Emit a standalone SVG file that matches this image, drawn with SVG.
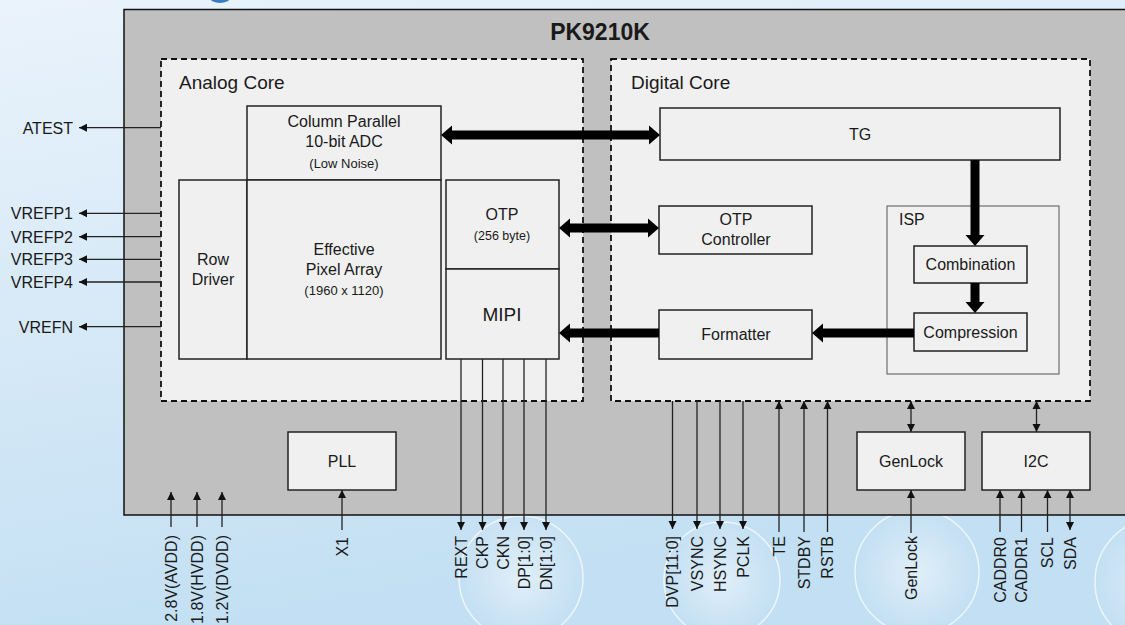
<svg xmlns="http://www.w3.org/2000/svg" width="1125" height="625" viewBox="0 0 1125 625">
<defs>
<linearGradient id="bg" x1="0" y1="0" x2="0.3" y2="1">
<stop offset="0" stop-color="#eaf3fb"/>
<stop offset="0.5" stop-color="#d6e9f7"/>
<stop offset="1" stop-color="#c2dff3"/>
</linearGradient>
<radialGradient id="glow" cx="0.5" cy="0.5" r="0.5">
<stop offset="0" stop-color="#ffffff" stop-opacity="0.5"/>
<stop offset="0.7" stop-color="#ffffff" stop-opacity="0.15"/>
<stop offset="1" stop-color="#ffffff" stop-opacity="0.02"/>
</radialGradient>
<marker id="ah" viewBox="0 0 10 10" refX="10" refY="5" markerWidth="8" markerHeight="9" markerUnits="userSpaceOnUse" orient="auto-start-reverse">
<path d="M0,0 L10,5 L0,10 Z" fill="#111"/>
</marker>
<style>
text{font-family:"Liberation Sans",Arial,sans-serif;fill:#1a1a1a}
.box{fill:#f0f0f0;stroke:#222;stroke-width:1.5}
.isp{fill:#f0f0f0;stroke:#555;stroke-width:1}
.core{fill:#f0f0f0;stroke:#111;stroke-width:1.8;stroke-dasharray:6,4}
.t16{font-size:16px;text-anchor:middle}
.t13{font-size:13px;text-anchor:middle}
.lab{font-size:16px}
.corelab{font-size:19px}
.rot{font-size:16px;text-anchor:end}
.w{stroke:#222;stroke-width:1.3;fill:none}
.a{marker-end:url(#ah)}
.b{marker-start:url(#ah);marker-end:url(#ah)}
.thick{fill:#000}
.deco{fill:url(#glow);stroke:#ffffff;stroke-opacity:0.7;stroke-width:1.5}
</style>
</defs>

<rect width="1125" height="625" fill="url(#bg)"/>
<ellipse cx="220" cy="-2" rx="10" ry="5" fill="#3a7cc0"/>
<g id="decor">
<circle class="deco" cx="521" cy="578" r="62"/>
<circle class="deco" cx="722" cy="580" r="58"/>
<circle class="deco" cx="917" cy="572" r="62"/>
<circle class="deco" cx="1160" cy="582" r="65"/>
</g>

<g id="chip">
<rect x="124" y="9.5" width="1010" height="505.5" fill="#c0c0c0" stroke="#111" stroke-width="1.5"/>
<text x="600" y="40" font-size="23" font-weight="bold" text-anchor="middle">PK9210K</text>
</g>

<g id="analog-core">
<rect class="core" x="161" y="59" width="422" height="342"/>
<text class="corelab" x="179" y="89">Analog Core</text>
</g>
<g id="digital-core">
<rect class="core" x="611" y="59" width="479" height="342"/>
<text class="corelab" x="631" y="89">Digital Core</text>
</g>

<g id="adc">
<rect class="box" x="247" y="106" width="194" height="74"/>
<text class="t16" x="344" y="127">Column Parallel</text>
<text class="t16" x="344" y="147">10-bit ADC</text>
<text class="t13" x="344" y="168">(Low Noise)</text>
</g>
<g id="row-driver">
<rect class="box" x="179" y="180" width="68" height="179"/>
<text class="t16" x="213" y="265">Row</text>
<text class="t16" x="213" y="285">Driver</text>
</g>
<g id="pixel-array">
<rect class="box" x="247" y="180" width="194" height="179"/>
<text class="t16" x="344" y="255">Effective</text>
<text class="t16" x="344" y="275">Pixel Array</text>
<text class="t13" x="344" y="295">(1960 x 1120)</text>
</g>
<g id="otp">
<rect class="box" x="446" y="180" width="113" height="89"/>
<text class="t16" x="502" y="220">OTP</text>
<text class="t13" x="502" y="240" style="font-size:12.5px">(256 byte)</text>
</g>
<g id="mipi">
<rect class="box" x="446" y="269" width="113" height="90"/>
<text class="t16" x="502" y="321" style="font-size:19px">MIPI</text>
</g>

<g id="tg">
<rect class="box" x="660" y="108" width="400" height="52"/>
<text class="t16" x="860" y="140">TG</text>
</g>
<g id="otp-controller">
<rect class="box" x="659" y="206" width="153" height="48"/>
<text class="t16" x="736" y="225">OTP</text>
<text class="t16" x="736" y="245">Controller</text>
</g>
<g id="formatter">
<rect class="box" x="659" y="310" width="153" height="49"/>
<text class="t16" x="736" y="340">Formatter</text>
</g>
<g id="isp">
<rect class="isp" x="887" y="206" width="172" height="168"/>
<text class="lab" x="899" y="225">ISP</text>
</g>
<g id="combination">
<rect class="box" x="914" y="246" width="113" height="37"/>
<text class="t16" x="970.5" y="270">Combination</text>
</g>
<g id="compression">
<rect class="box" x="914" y="313" width="113" height="38"/>
<text class="t16" x="970.5" y="338">Compression</text>
</g>

<g id="pll">
<rect class="box" x="288" y="432" width="108" height="58"/>
<text class="t16" x="342" y="467">PLL</text>
</g>
<g id="genlock">
<rect class="box" x="857" y="432" width="108" height="58"/>
<text class="t16" x="911" y="467">GenLock</text>
</g>
<g id="i2c">
<rect class="box" x="982" y="432" width="108" height="58"/>
<text class="t16" x="1036" y="467">I2C</text>
</g>

<g id="connectors">
<polygon class="thick" points="441,135 452,125.5 452,130.5 649,130.5 649,125.5 660,135 649,144.5 649,139.5 452,139.5 452,144.5"/>
<polygon class="thick" points="559,228 570,218.5 570,223.5 648,223.5 648,218.5 659,228 648,237.5 648,232.5 570,232.5 570,237.5"/>
<polygon class="thick" points="559,333 570,323.5 570,328.5 659,328.5 659,337.5 570,337.5 570,342.5"/>
<polygon class="thick" points="812,333 823,323.5 823,328.5 914,328.5 914,337.5 823,337.5 823,342.5"/>
<polygon class="thick" points="975,246 965.5,235 970.5,235 970.5,160 979.5,160 979.5,235 984.5,235"/>
<polygon class="thick" points="975,313 965.5,302 970.5,302 970.5,283 979.5,283 979.5,302 984.5,302"/>

<line class="w a" x1="161" y1="127.7" x2="79" y2="127.7"/>
<line class="w a" x1="161" y1="213.3" x2="79" y2="213.3"/>
<line class="w a" x1="161" y1="236.7" x2="79" y2="236.7"/>
<line class="w a" x1="161" y1="259.3" x2="79" y2="259.3"/>
<line class="w a" x1="161" y1="282" x2="79" y2="282"/>
<line class="w a" x1="161" y1="326.7" x2="79" y2="326.7"/>

<line class="w a" x1="171" y1="527" x2="171" y2="492"/>
<line class="w a" x1="197" y1="527" x2="197" y2="492"/>
<line class="w a" x1="222" y1="527" x2="222" y2="492"/>
<line class="w a" x1="342" y1="530" x2="342" y2="490"/>

<line class="w a" x1="461" y1="359" x2="461" y2="530"/>
<line class="w a" x1="482.5" y1="359" x2="482.5" y2="530"/>
<line class="w a" x1="503" y1="359" x2="503" y2="530"/>
<line class="w a" x1="524" y1="359" x2="524" y2="530"/>
<line class="w a" x1="546" y1="359" x2="546" y2="530"/>

<line class="w a" x1="672.5" y1="401" x2="672.5" y2="529"/>
<line class="w a" x1="697" y1="401" x2="697" y2="529"/>
<line class="w a" x1="720" y1="401" x2="720" y2="529"/>
<line class="w a" x1="743" y1="401" x2="743" y2="529"/>
<line class="w a" x1="779" y1="532" x2="779" y2="401"/>
<line class="w a" x1="804" y1="532" x2="804" y2="401"/>
<line class="w a" x1="827.5" y1="532" x2="827.5" y2="401"/>

<line class="w b" x1="911" y1="401" x2="911" y2="432"/>
<line class="w a" x1="911" y1="533" x2="911" y2="490"/>
<line class="w b" x1="1036.5" y1="401" x2="1036.5" y2="432"/>
<line class="w a" x1="1000" y1="532" x2="1000" y2="490"/>
<line class="w a" x1="1021.5" y1="532" x2="1021.5" y2="490"/>
<line class="w a" x1="1047.5" y1="532" x2="1047.5" y2="490"/>
<line class="w b" x1="1070" y1="490" x2="1070" y2="530"/>
</g>

<g id="pin-labels">
<text class="lab" x="73" y="133.5" text-anchor="end">ATEST</text>
<text class="lab" x="73" y="219" text-anchor="end">VREFP1</text>
<text class="lab" x="73" y="242.5" text-anchor="end">VREFP2</text>
<text class="lab" x="73" y="265" text-anchor="end">VREFP3</text>
<text class="lab" x="73" y="288" text-anchor="end">VREFP4</text>
<text class="lab" x="73" y="332.5" text-anchor="end">VREFN</text>

<text class="rot" dy="0.36em" transform="translate(171,535) rotate(-90)">2.8V(AVDD)</text>
<text class="rot" dy="0.36em" transform="translate(197,535) rotate(-90)">1.8V(HVDD)</text>
<text class="rot" dy="0.36em" transform="translate(222,535) rotate(-90)">1.2V(DVDD)</text>
<text class="rot" dy="0.36em" transform="translate(342,537) rotate(-90)">X1</text>

<text class="rot" dy="0.36em" transform="translate(461,536) rotate(-90)">REXT</text>
<text class="rot" dy="0.36em" transform="translate(482.5,536) rotate(-90)">CKP</text>
<text class="rot" dy="0.36em" transform="translate(503,536) rotate(-90)">CKN</text>
<text class="rot" dy="0.36em" transform="translate(524,536) rotate(-90)">DP[1:0]</text>
<text class="rot" dy="0.36em" transform="translate(546,536) rotate(-90)">DN[1:0]</text>

<text class="rot" dy="0.36em" transform="translate(672.5,536) rotate(-90)">DVP[11:0]</text>
<text class="rot" dy="0.36em" transform="translate(697,536) rotate(-90)">VSYNC</text>
<text class="rot" dy="0.36em" transform="translate(720,536) rotate(-90)">HSYNC</text>
<text class="rot" dy="0.36em" transform="translate(743,536) rotate(-90)">PCLK</text>
<text class="rot" dy="0.36em" transform="translate(779,536) rotate(-90)">TE</text>
<text class="rot" dy="0.36em" transform="translate(804,536) rotate(-90)">STDBY</text>
<text class="rot" dy="0.36em" transform="translate(827.5,536) rotate(-90)">RSTB</text>

<text class="rot" dy="0.36em" transform="translate(911,536) rotate(-90)">GenLock</text>
<text class="rot" dy="0.36em" transform="translate(1000,537) rotate(-90)">CADDR0</text>
<text class="rot" dy="0.36em" transform="translate(1021.5,537) rotate(-90)">CADDR1</text>
<text class="rot" dy="0.36em" transform="translate(1047.5,537) rotate(-90)">SCL</text>
<text class="rot" dy="0.36em" transform="translate(1070,537) rotate(-90)">SDA</text>
</g>
</svg>
